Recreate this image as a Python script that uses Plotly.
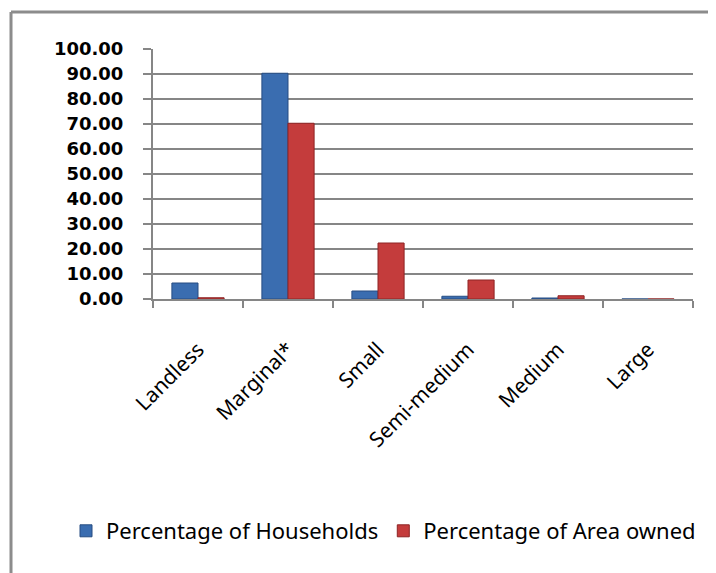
import plotly.graph_objects as go

categories = ["Landless", "Marginal*", "Small", "Semi-medium", "Medium", "Large"]
households = [6.4, 90.3, 3.2, 1.1, 0.4, 0.0]
area_owned = [0.5, 70.3, 22.4, 7.6, 1.3, 0.0]
y_ticks = [0, 10, 20, 30, 40, 50, 60, 70, 80, 90, 100]
y_tick_labels = ["%.2f" % v for v in y_ticks]

fig = go.Figure()
fig.add_trace(go.Bar(
    x=categories, y=households, name="Percentage of Households",
    marker=dict(color="#3A6DB0", line=dict(color="#274D82", width=1)),
))
fig.add_trace(go.Bar(
    x=categories, y=area_owned, name="Percentage of Area owned",
    marker=dict(color="#C43C3C", line=dict(color="#8E2424", width=1)),
))

# page body has an 8px margin, so work in page pixels minus 8
OFF = 8
W, H = 716 - OFF, 573 - OFF
L, T = 153 - OFF, 49 - OFF
R = W - (693 - OFF)
B = H - (299 - OFF)
pw, ph = W - L - R, H - T - B

def px(xp):
    return (xp - OFF - L) / pw

def py(yp):
    return (H - B - (yp - OFF)) / ph

fig.update_layout(
    width=W, height=H,
    margin=dict(l=L, r=R, t=T, b=B, autoexpand=False),
    paper_bgcolor="white", plot_bgcolor="white",
    barmode="group", bargap=0.42, bargroupgap=0.0,
    showlegend=True,
    legend=dict(
        orientation="h", x=px(66), y=py(531),
        xanchor="left", yanchor="middle",
        font=dict(family="Noto Sans", size=22, color="#000000"),
        itemwidth=30, traceorder="normal",
    ),
    font=dict(family="Noto Sans", color="#000000"),
    shapes=[
        dict(type="line", xref="paper", yref="paper", x0=px(11), x1=px(716),
             y0=py(12), y1=py(12), line=dict(color="#8C8C8C", width=3)),
        dict(type="line", xref="paper", yref="paper", x0=px(11), x1=px(11),
             y0=py(12), y1=py(573), line=dict(color="#8C8C8C", width=3)),
    ],
)

fig.update_xaxes(
    type="category", showline=True, linecolor="#868686", linewidth=2,
    ticks="outside", tickson="boundaries", ticklen=7, tickcolor="#868686", tickwidth=2,
    tickangle=-45, tickfont=dict(family="Noto Sans", size=21, color="#000000"),
    ticklabelstandoff=28, automargin=False,
    showgrid=False,
)
fig.update_yaxes(
    range=[0, 100], tickvals=y_ticks, ticktext=y_tick_labels,
    showline=True, linecolor="#868686", linewidth=2,
    ticks="outside", ticklen=8, tickcolor="#868686", tickwidth=2,
    showgrid=True, gridcolor="#868686", gridwidth=2, zeroline=False,
    tickfont=dict(family="DejaVu Sans", size=18, color="#000000", weight="bold"),
    ticklabelstandoff=16, automargin=False,
)

fig.write_html("out.html")
